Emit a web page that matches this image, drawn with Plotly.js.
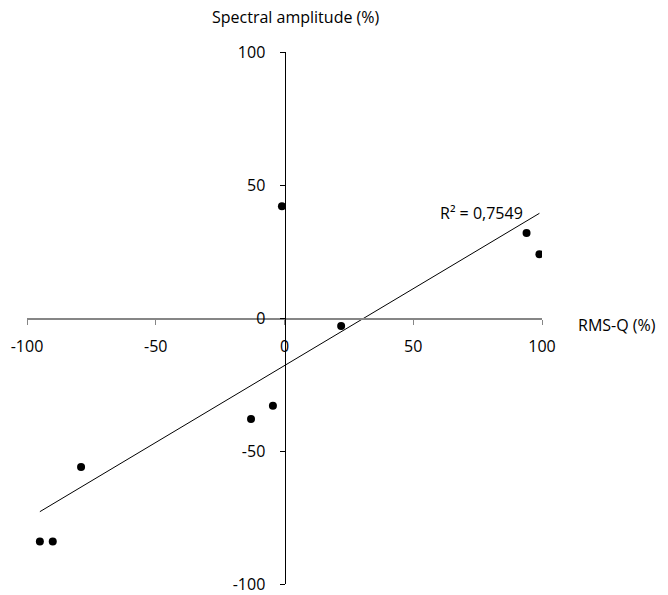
<!DOCTYPE html>
<html>
<head>
<meta charset="utf-8">
<script src="https://cdn.plot.ly/plotly-3.0.1.min.js"></script>
<style>html,body{margin:0;padding:0;background:#fff;}#chart{width:668px;height:595px;}</style>
</head>
<body>
<div id="chart"></div>
<script>
var rmsQ = [-95, -90, -79, -13, -4.5, -1, 22, 94, 99];
var spectralAmp = [-84, -84, -56, -38, -33, 42, -3, 32, 24];
var xTicks = [-100, -50, 0, 50, 100];
var yTicks = [-100, -50, 0, 50, 100];
var r2Label = 'R² = 0,7549';

// least squares trend line computed from the data
var n = rmsQ.length, mx = 0, my = 0;
for (var i = 0; i < n; i++) { mx += rmsQ[i]; my += spectralAmp[i]; }
mx /= n; my /= n;
var sxy = 0, sxx = 0;
for (var i = 0; i < n; i++) { sxy += (rmsQ[i]-mx)*(spectralAmp[i]-my); sxx += (rmsQ[i]-mx)*(rmsQ[i]-mx); }
var slope = sxy / sxx, icpt = my - slope * mx;
var xmin = Math.min.apply(null, rmsQ), xmax = Math.max.apply(null, rmsQ);
var trendX = [xmin, xmax];
var trendY = [icpt + slope * xmin, icpt + slope * xmax];

var font = 'Open Sans, Noto Sans, sans-serif';
var fs = 16;
var traces = [
  {x: trendX, y: trendY, mode: 'lines', line: {color: '#000', width: 1}, hoverinfo: 'skip', showlegend: false},
  {x: rmsQ, y: spectralAmp, mode: 'markers', marker: {color: '#000', size: 8}, showlegend: false}
];
var layout = {
  width: 668, height: 595,
  margin: {l: 27, r: 126, t: 52, b: 11},
  paper_bgcolor: '#fff', plot_bgcolor: '#fff',
  font: {family: font, size: fs, color: '#000'},
  showlegend: false,
  xaxis: {
    range: [-100, 100], tickvals: xTicks, ticktext: xTicks.map(String),
    anchor: 'free', position: 0.5, showgrid: false, zeroline: false,
    showline: true, linecolor: '#868686', linewidth: 1.5,
    ticks: 'outside', ticklen: 5, tickcolor: '#868686', tickwidth: 1,
    ticklabelstandoff: 8, tickfont: {family: font, size: fs, color: '#000'}
  },
  yaxis: {
    range: [-100, 100], tickvals: yTicks, ticktext: yTicks.map(String),
    anchor: 'free', position: 0.5, showgrid: false, zeroline: false,
    showline: true, linecolor: '#000', linewidth: 1.5,
    ticks: 'outside', ticklen: 5, tickcolor: '#000', tickwidth: 1,
    ticklabelstandoff: 11, tickfont: {family: font, size: fs, color: '#000'}
  },
  annotations: [
    {text: 'Spectral amplitude (%)', xref: 'paper', yref: 'paper', x: (296-27)/515, y: 1 + (52-17)/532,
     xanchor: 'center', yanchor: 'middle', showarrow: false, font: {family: font, size: fs, color: '#000'}},
    {text: 'RMS-Q (%)', xref: 'paper', yref: 'paper', x: (576-27)/515, y: 0.5 - (325-318)/532,
     xanchor: 'left', yanchor: 'middle', showarrow: false, font: {family: font, size: fs, color: '#000'}},
    {text: r2Label, xref: 'paper', yref: 'paper', x: (481-27)/515, y: (584-213)/532,
     xanchor: 'center', yanchor: 'middle', showarrow: false, font: {family: font, size: fs, color: '#000'}}
  ]
};
Plotly.newPlot('chart', traces, layout, {displayModeBar: false, staticPlot: true});
</script>
</body>
</html>
